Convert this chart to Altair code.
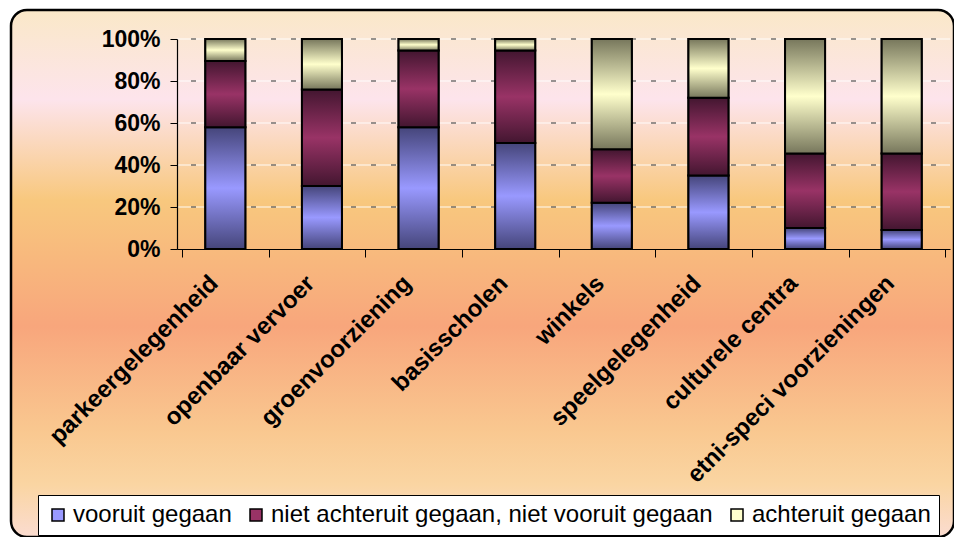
import altair as alt
import pandas as pd

categories = ["parkeergelegenheid", "openbaar vervoer", "groenvoorziening", "basisscholen",
              "winkels", "speelgelegenheid", "culturele centra", "etni-speci voorzieningen"]
series = ["vooruit gegaan", "niet achteruit gegaan, niet vooruit gegaan", "achteruit gegaan"]
vooruit = [58, 30, 58, 50.5, 22, 35, 10, 9]
niet = [31.5, 46, 36.5, 44, 25.5, 37, 35.5, 36.5]
achteruit = [10.5, 24, 5.5, 5.5, 52.5, 28, 54.5, 54.5]
grid_values = [0.2, 0.4, 0.6, 0.8, 1.0]
y_ticks = [0, 0.2, 0.4, 0.6, 0.8, 1.0]

solid = ["#9999FF", "#993366", "#FFFFCC"]
shades = {
    series[0]: ("#45457A", "#9999FF"),
    series[1]: ("#431630", "#993366"),
    series[2]: ("#77775C", "#FFFFCC"),
}

rows = []
for i, c in enumerate(categories):
    for k, (s, vals) in enumerate(zip(series, [vooruit, niet, achteruit])):
        rows.append({"cat": c, "series": s, "order": k, "value": vals[i]})
df = pd.DataFrame(rows)

PW, PH = 773, 210
FONT = "Liberation Sans"


def grad(stops):
    return alt.Gradient(
        gradient="linear", x1=0, x2=0, y1=0, y2=1,
        stops=[alt.GradientStop(color=c, offset=o) for o, c in stops],
    )


y_axis = alt.Axis(format=".0%", values=y_ticks, labelFont=FONT, labelFontSize=23,
                  labelFontWeight="bold", labelColor="black", labelPadding=10, tickSize=7,
                  tickColor="black", domainColor="black", domainWidth=1.2, grid=False, zindex=1,
                  title=None)
y_scale = alt.Scale(domain=[0, 1])

x_axis = alt.Axis(labelAngle=-45, labelFont=FONT, labelFontSize=24, labelFontWeight="bold",
                  labelColor="black", labelPadding=14, labelOffset=-20, tickBand="extent",
                  tickSize=8, tickColor="black", domainColor="black", domainWidth=1.2, grid=False,
                  zindex=1, labelLimit=400, title=None)

bg = alt.Chart(pd.DataFrame({"one": [1]})).mark_rect(
    cornerRadius=16, stroke="black", strokeWidth=2.5,
    fill=grad([(0, "#FAE8C8"), (0.17, "#FDE4EC"), (0.36, "#F8C87E"),
               (0.6, "#F8A67C"), (0.8, "#F9C890"), (0.9, "#FAD5A2"), (1, "#FBDCD0")]),
).encode(x=alt.value(-166), x2=alt.value(PW + 4), y=alt.value(-29), y2=alt.value(498))

gdf = pd.DataFrame({"g": grid_values})
grid_white = alt.Chart(gdf).mark_rule(color="white", strokeWidth=1, opacity=0.9).encode(
    y=alt.Y("g:Q", scale=y_scale, axis=y_axis)
)
grid_dash = alt.Chart(gdf).mark_rule(color="#333333", strokeWidth=1.2, strokeDash=[5, 15],
                                      strokeDashOffset=6).encode(
    y=alt.Y("g:Q", scale=y_scale, axis=y_axis)
)

base = alt.Chart(df).transform_stack(
    stack="value", groupby=["cat"], as_=["y0", "y1"], offset="normalize",
    sort=[alt.SortField("order", order="ascending")],
)

legend_layer = base.mark_bar(size=40, stroke="black", strokeWidth=2).encode(
    x=alt.X("cat:N", sort=categories, axis=x_axis),
    y=alt.Y("y0:Q", scale=y_scale, axis=y_axis),
    y2="y1:Q",
    color=alt.Color("series:N", sort=series, scale=alt.Scale(domain=series, range=solid),
                    legend=alt.Legend(title=None, orient="none", legendX=-139, legendY=456,
                                      direction="horizontal", columns=3, fillColor="white",
                                      strokeColor="black", padding=8, labelFont=FONT,
                                      labelFontSize=24, labelColor="black", symbolType="square",
                                      symbolSize=144, symbolStrokeColor="black", symbolStrokeWidth=1.5,
                                      symbolOpacity=1, labelOffset=3, columnPadding=12,
                                      labelLimit=600)),
)

grad_layers = []
for s in series:
    dark, light = shades[s]
    grad_layers.append(
        base.transform_filter(alt.datum.series == s).mark_bar(
            size=40, stroke="black", strokeWidth=2,
            fill=grad([(0, dark), (0.5, light), (1, dark)]),
        ).encode(x=alt.X("cat:N", sort=categories, axis=x_axis),
                 y=alt.Y("y0:Q", scale=y_scale, axis=y_axis), y2="y1:Q")
    )

chart = alt.layer(bg, grid_white, grid_dash, legend_layer, *grad_layers).properties(
    width=PW, height=PH,
    autosize=alt.AutoSizeParams(type="none"),
    padding={"left": 169, "top": 31, "right": 946 - 169 - PW, "bottom": 529 - 31 - PH},
    background="white",
).configure_view(stroke=None)

chart.save("out.html", embed_options={"renderer": "svg", "actions": False})
